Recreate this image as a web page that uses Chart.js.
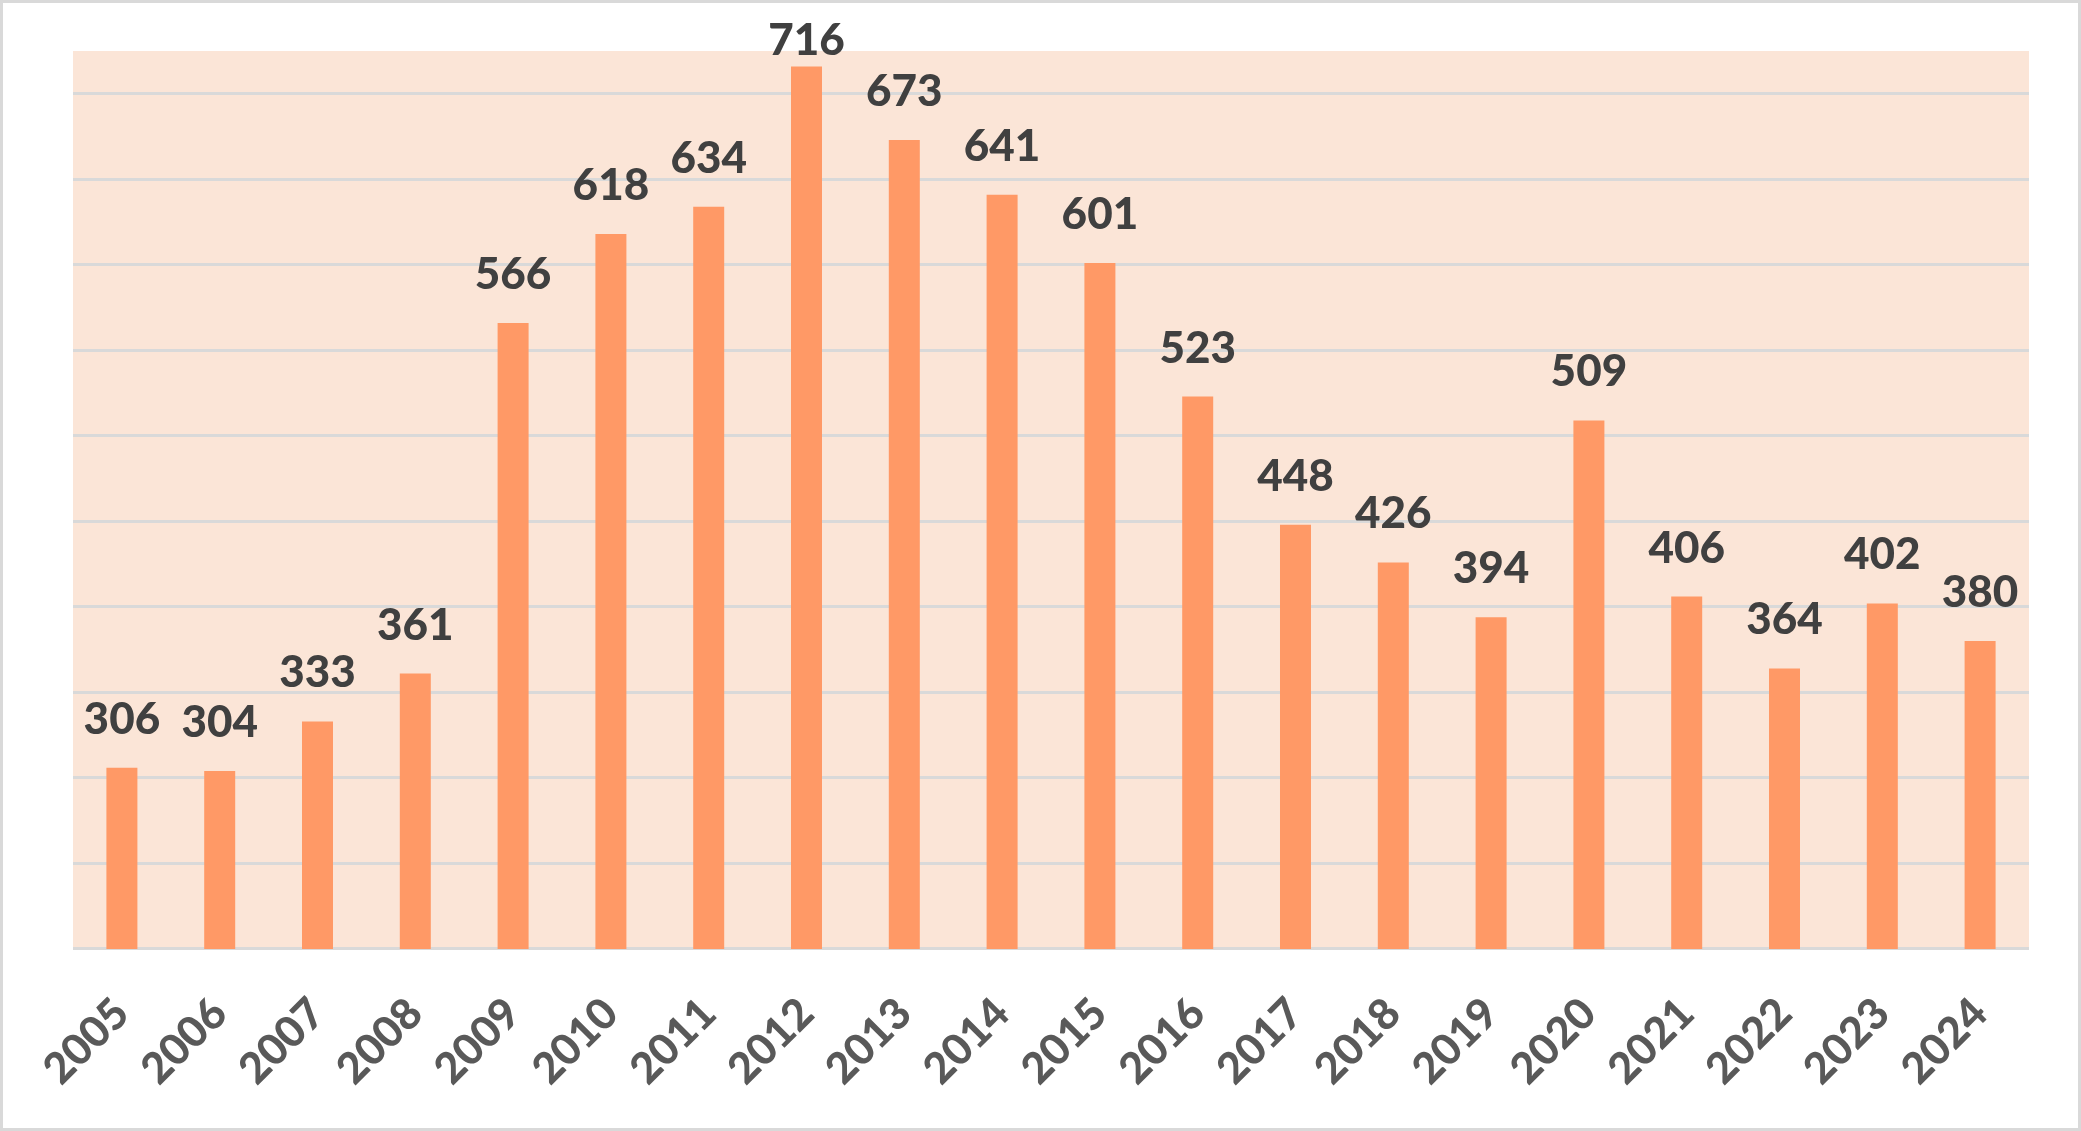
<!DOCTYPE html>
<html><head><meta charset="utf-8">
<script src="https://cdn.jsdelivr.net/npm/chart.js@4.4.0/dist/chart.umd.min.js"></script>
<style>
html,body{margin:0;padding:0;background:#fff;overflow:hidden}
#wrap{position:relative;width:2081px;height:1131px}
</style></head>
<body><div id="wrap"><canvas id="c"></canvas></div>
<script>
const categories = ['2005','2006','2007','2008','2009','2010','2011','2012','2013','2014','2015','2016','2017','2018','2019','2020','2021','2022','2023','2024'];
const values = [306,304,333,361,566,618,634,716,673,641,601,523,448,426,394,509,406,364,402,380];
const yMin = 200, yMax = 725, yStep = 50;

const framePlugin = {
  id: 'frame',
  beforeDraw(chart) {
    const {ctx, chartArea: a} = chart;
    ctx.save();
    ctx.fillStyle = '#FFFFFF';
    ctx.fillRect(0, 0, chart.width, chart.height);
    ctx.fillStyle = '#FBE5D7';
    ctx.fillRect(a.left, a.top, a.right - a.left, a.bottom - a.top);
    ctx.restore();
  },
  afterDraw(chart) {
    const {ctx} = chart;
    ctx.save();
    ctx.strokeStyle = '#D9D9D9';
    ctx.lineWidth = 3;
    ctx.strokeRect(1.5, 1.5, chart.width - 3, chart.height - 3);
    ctx.restore();
  }
};

const valueLabels = {
  id: 'valueLabels',
  afterDatasetsDraw(chart) {
    const {ctx} = chart;
    const meta = chart.getDatasetMeta(0);
    ctx.save();
    ctx.font = '900 44px Lato';
    ctx.fillStyle = '#404040';
    ctx.textAlign = 'center';
    ctx.textBaseline = 'alphabetic';
    meta.data.forEach((bar, i) => {
      let y = Math.max(bar.y - 34, 55);
      ctx.fillText(String(values[i]), bar.x, y);
    });
    ctx.restore();
  }
};

new Chart(document.getElementById('c'), {
  type: 'bar',
  data: {
    labels: categories,
    datasets: [{
      data: values,
      backgroundColor: '#FF9966',
      borderWidth: 0,
      categoryPercentage: 1.0,
      barPercentage: 0.317
    }]
  },
  options: {
    responsive: true,
    maintainAspectRatio: false,
    animation: false,
    layout: { padding: { left: 73, right: 52, top: 51, bottom: 5 } },
    plugins: { legend: { display: false }, tooltip: { enabled: false } },
    scales: {
      x: {
        grid: { display: false },
        border: { display: false },
        ticks: {
          autoSkip: false,
          minRotation: 45,
          maxRotation: 45,
          padding: 31,
          color: '#595959',
          font: { family: 'Lato', weight: '900', size: 43 }
        }
      },
      y: {
        min: yMin,
        max: yMax,
        ticks: { display: false, stepSize: yStep },
        border: { display: false },
        grid: {
          drawTicks: false,
          lineWidth: 3,
          color: (c) => (c.tick && c.tick.value > 700) ? 'rgba(0,0,0,0)' : '#D9D9D9'
        }
      }
    }
  },
  plugins: [framePlugin, valueLabels]
});
</script>
</body></html>
